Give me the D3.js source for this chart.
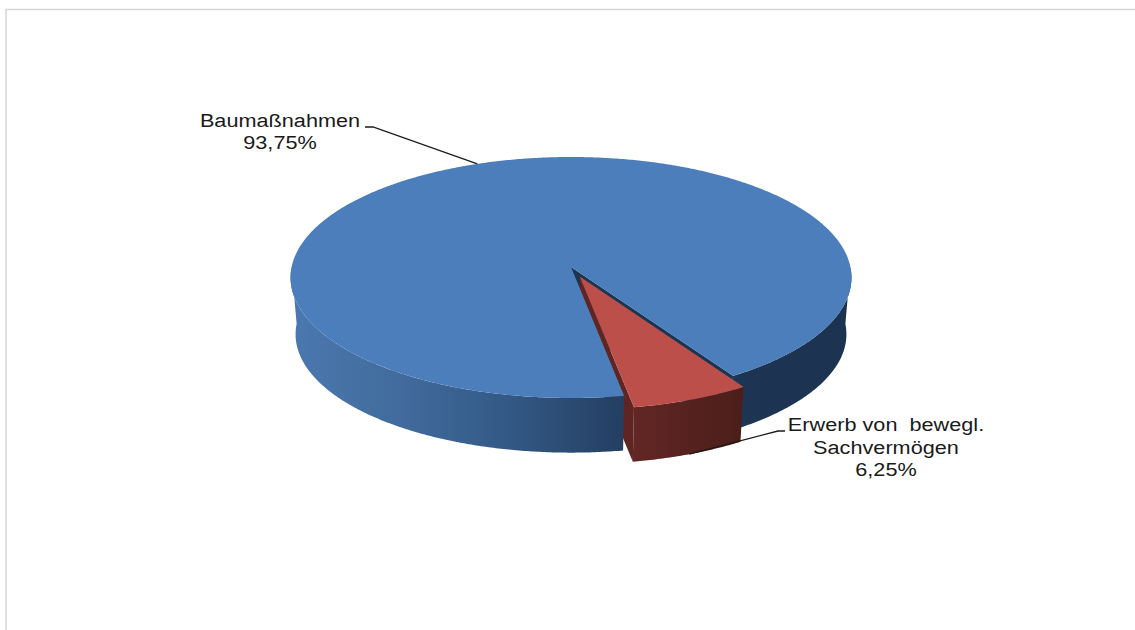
<!DOCTYPE html>
<html lang="de">
<head>
<meta charset="utf-8">
<script src="https://cdn.jsdelivr.net/npm/d3@7"></script>
<style>
  html, body { margin: 0; padding: 0; background: #fff; }
  svg { display: block; }
  text { font-family: "Liberation Sans", Arial, sans-serif; fill: #1a1a1a; }
</style>
</head>
<body>
<script>
// Ausgaben nach Bereich (Anteile in Prozent)
const categories = ["Baumaßnahmen", "Erwerb von bewegl. Sachvermögen"];
const shares = [93.75, 6.25];
const labelLines = [
  ["Baumaßnahmen", "93,75%"],
  ["Erwerb von  bewegl.", "Sachvermögen", "6,25%"]
];
const topColors = ["#4c7ebb", "#bd4f4b"];

const width = 1135, height = 630;
const deg = Math.PI / 180;

// Tilted disc: plan coordinates (u, v) in [-1, 1], v pointing to the viewer.
const centerX = 571, apexY = 267;
const radiusX = 279.4, radiusY = 119.6, perspective = 0.087;
const thickness = 57, shrink = 0.018;
const explode = 0.085;

const planX = d3.scaleLinear().domain([-1, 1]).range([-radiusX, radiusX]);
const planY = d3.scaleLinear().domain([-1, 1]).range([-radiusY, radiusY]);

function project(u, v, z) {
  const w = 1 - perspective * v;
  const s = 1 - shrink * z;
  return [
    centerX + s * planX(u) / w,
    apexY + thickness * z + s * planY(v) / w
  ];
}

const onDisc = (angle, r, z, off) =>
  project(r * Math.sin(angle) + off[0], -r * Math.cos(angle) + off[1], z);

const slices = d3.pie().sort(null).startAngle(170 * deg).endAngle(530 * deg)(shares);
const midAngle = d => (d.startAngle + d.endAngle) / 2;
const offsets = slices.map((d, i) => i === 1
  ? [explode * Math.sin(midAngle(d)), -explode * Math.cos(midAngle(d))]
  : [0, 0]);

const path = d3.line();
const arcBetween = (a0, a1, z, off) => {
  const n = Math.ceil((a1 - a0) / (0.5 * deg));
  return d3.range(n + 1).map(i => onDisc(a0 + (a1 - a0) * i / n, 1, z, off));
};
const closed = pts => path(pts) + "Z";
const wall = (a0, a1, off) => closed(
  arcBetween(a0, a1, 0, off).concat(arcBetween(a0, a1, 1, off).reverse()));

const svg = d3.select("body").append("svg")
  .attr("width", width).attr("height", height);

// Shading of the outer walls
const defs = svg.append("defs");
function addGradient(id, stops, x1, x2) {
  const g = defs.append("linearGradient").attr("id", id)
    .attr("gradientUnits", "userSpaceOnUse")
    .attr("x1", x1).attr("x2", x2).attr("y1", 0).attr("y2", 0);
  stops.forEach(([o, c]) => g.append("stop").attr("offset", o).attr("stop-color", c));
}
addGradient("rimBlue", [
  [0, "#4a78b0"], [0.2, "#416b9c"], [0.38, "#345a87"],
  [0.6, "#233e60"], [0.82, "#1d3552"], [1, "#1b3350"]
], 290, 851);
addGradient("rimRed", [
  [0, "#632725"], [0.45, "#57221f"], [1, "#4b1e1a"]
], 633, 745);

// Page frame
svg.append("path").attr("d", `M6,${height}V9.5H${width}`)
  .attr("fill", "none").attr("stroke", "#d6d6d6").attr("stroke-width", 1.5);

const [blue, red] = slices;
const [blueOff, redOff] = offsets;

// Cut faces exposed by the pulled-out slice
svg.append("path").attr("fill", "#1c3553").attr("d", closed([
  onDisc(0, 0, 0, blueOff),
  onDisc(blue.endAngle, 1, 0, blueOff),
  onDisc(blue.endAngle, 1, 1, blueOff),
  onDisc(0, 0, 1, blueOff)
]));
svg.append("path").attr("fill", "#5e2523").attr("d", closed([
  onDisc(0, 0, 0, redOff),
  onDisc(red.endAngle, 1, 0, redOff),
  onDisc(red.endAngle, 1, 1, redOff),
  onDisc(0, 0, 1, redOff)
]));

// Large slice: the two visible wall sections (front left, front right), then the top face
svg.append("path").attr("fill", "url(#rimBlue)")
  .attr("d", wall(blue.startAngle, 270 * deg, blueOff));
svg.append("path").attr("fill", "url(#rimBlue)")
  .attr("d", wall(450 * deg, blue.endAngle, blueOff));
svg.append("path").attr("fill", topColors[0])
  .attr("d", closed([onDisc(0, 0, 0, blueOff)]
    .concat(arcBetween(blue.startAngle, blue.endAngle, 0, blueOff))));

// Small slice: wall, then top face
svg.append("path").attr("fill", "url(#rimRed)")
  .attr("d", wall(red.startAngle, red.endAngle, redOff));
svg.append("path").attr("fill", topColors[1])
  .attr("d", closed([onDisc(0, 0, 0, redOff)]
    .concat(arcBetween(red.startAngle, red.endAngle, 0, redOff))));

// Labels with leader lines running to the middle of each slice; the face is set wide
const labels = [
  { centerX: 280, baseline: 127, elbow: [[365, 127], [373, 127]], anchorZ: 0 },
  { centerX: 886, baseline: 431.5, elbow: [[785, 431], [778, 431]], anchorZ: 1 }
];
const lineGap = 22.5;
const fontSize = 19.2, stretch = 1.13;

labels.forEach((l, i) => {
  const end = onDisc(midAngle(slices[i]), 1, l.anchorZ, offsets[i]);
  svg.append("path").attr("fill", "none").attr("stroke", "#1a1a1a").attr("stroke-width", 1.3)
    .attr("d", path(l.elbow.concat([end])));
  svg.append("text")
    .attr("text-anchor", "middle")
    .attr("font-size", fontSize)
    .attr("transform", `translate(${l.centerX},0) scale(${stretch},1)`)
    .attr("aria-label", categories[i])
    .style("white-space", "pre")
    .selectAll("tspan").data(labelLines[i]).join("tspan")
    .attr("x", 0)
    .attr("y", (d, k) => l.baseline + k * lineGap)
    .text(d => d);
});
</script>
</body>
</html>
